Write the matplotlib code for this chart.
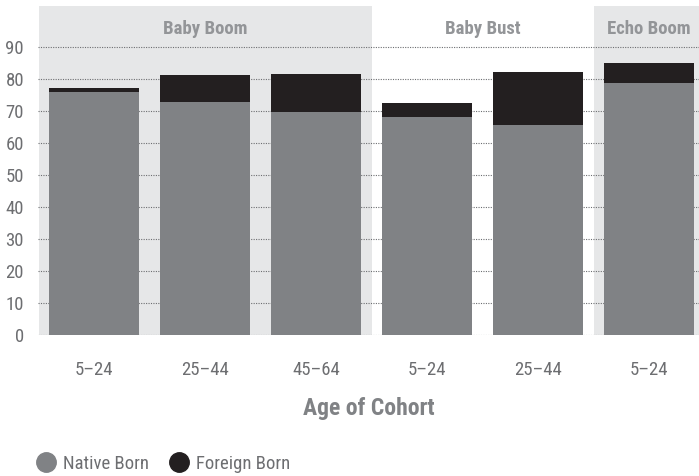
import matplotlib.pyplot as plt
from matplotlib.lines import Line2D
import numpy as np

plt.rcParams['font.family'] = ['Roboto Condensed', 'Roboto', 'DejaVu Sans']

ages = ['5–24', '25–44', '45–64', '5–24', '25–44', '5–24']
native = [75.9, 72.8, 69.7, 68.1, 65.5, 78.8]
foreign = [1.3, 8.4, 11.9, 4.4, 16.7, 6.2]
groups = ['Baby Boom', 'Baby Bust', 'Echo Boom']
group_spans = [(-0.5, 2.5), (2.5, 4.5), (4.5, 5.5)]
group_shaded = [True, False, True]

native_col = '#808285'
foreign_col = '#231f20'
shade_col = '#e6e7e8'
text_col = '#6d6e71'

fig = plt.figure(figsize=(6.99, 4.76), dpi=100)
ax = fig.add_axes([38 / 699, 1 - 335 / 476, 661 / 699, 329 / 476])

x = np.arange(len(ages))
ax.set_xlim(-0.505, 5.45)
ax.set_ylim(0, 102.8)

for (a, b), sh in zip(group_spans, group_shaded):
    if sh:
        ax.axvspan(a, b, color=shade_col, zorder=0, lw=0)

for y in range(0, 100, 10):
    ax.axhline(y, color='#6d6e71', lw=0.8, ls=(0, (1, 1.2)), zorder=1)

ax.bar(x, native, width=0.81, color=native_col, zorder=2)
ax.bar(x, foreign, bottom=native, width=0.81, color=foreign_col, zorder=2)

label_x = [1, 3.5, 5]
for g, gx in zip(groups, label_x):
    ax.text(gx, 95.5, g, ha='center', va='center', fontsize=13.5,
            fontweight='bold', color='#939598')

ax.set_yticks(range(0, 100, 10))
ax.set_xticks(x)
ax.set_xticklabels(ages)
ax.tick_params(length=0, labelsize=13.5, labelcolor=text_col)
ax.tick_params(axis='x', pad=19)
ax.tick_params(axis='y', pad=10)
for s in ax.spines.values():
    s.set_visible(False)

ax.set_xlabel('Age of Cohort', fontsize=17, fontweight='bold', color='#808285', labelpad=13)

handles = [Line2D([], [], marker='o', ls='', color=native_col, markersize=14),
           Line2D([], [], marker='o', ls='', color=foreign_col, markersize=14)]
fig.legend(handles, ['Native Born', 'Foreign Born'], loc='center left',
           bbox_to_anchor=(18 / 699, 1 - 464 / 476), ncol=2, frameon=False,
           fontsize=13.5, labelcolor=text_col, handletextpad=0.3, columnspacing=1.0,
           handlelength=1.2)

fig.savefig('out.png', dpi=100)
